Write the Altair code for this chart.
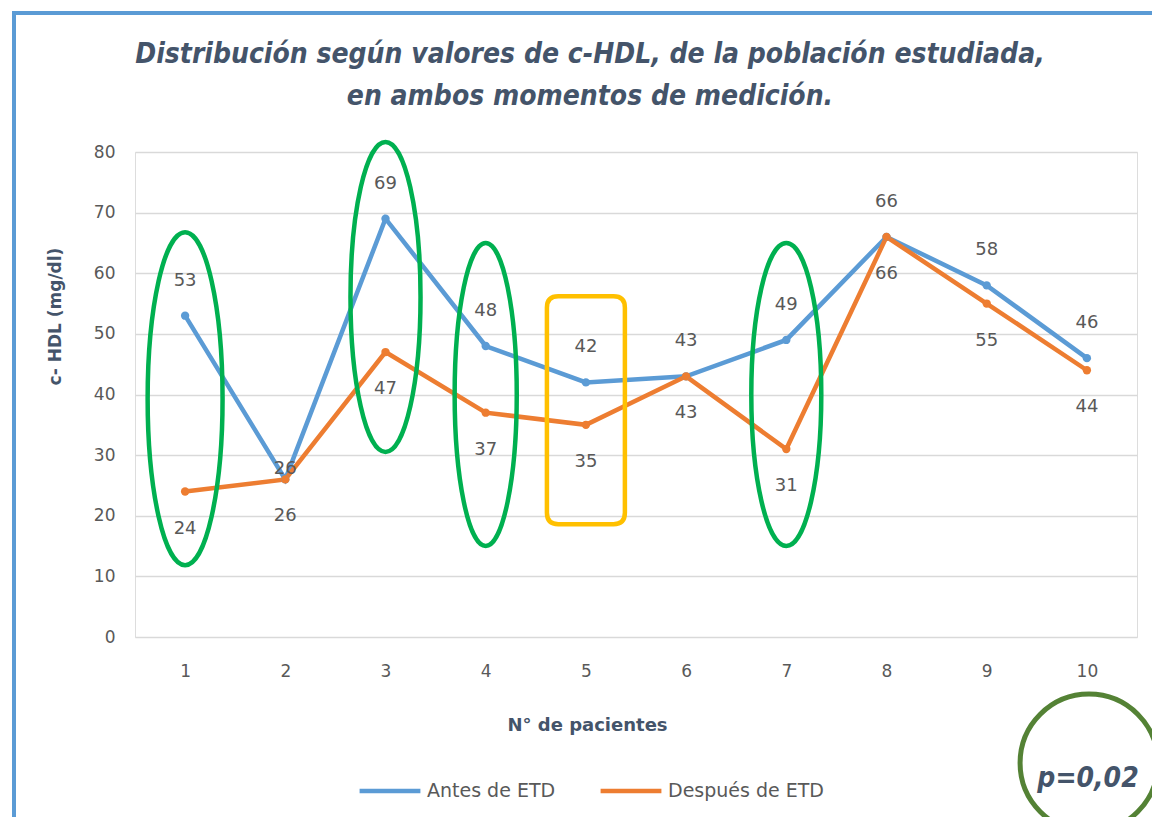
import altair as alt
import pandas as pd

# ---- data ----
pacientes = [1, 2, 3, 4, 5, 6, 7, 8, 9, 10]
antes = [53, 26, 69, 48, 42, 43, 49, 66, 58, 46]
despues = [24, 26, 47, 37, 35, 43, 31, 66, 55, 44]
series = ["Antes de ETD", "Después de ETD"]
colores = ["#5B9BD5", "#ED7D31"]

titulo = ["Distribución según valores de c-HDL, de la población estudiada,",
          "en ambos momentos de medición."]
p_valor = ["p=0,02"]

# annotation anchors (category, value at centre of the marker)
elipse_pacientes = [1, 3, 4, 7]
elipse_centros = [39.3, 56.1, 40.0, 40.0]
rect_paciente = [5]
rect_centro = [37.4]

rows = []
for p, a, d in zip(pacientes, antes, despues):
    rows.append({"paciente": p, "valor": a, "serie": series[0]})
    rows.append({"paciente": p, "valor": d, "serie": series[1]})
df = pd.DataFrame(rows)

FONT = "'DejaVu Sans', sans-serif"
TFONT = "'DejaVu Sans Condensed', 'Liberation Sans Narrow', 'DejaVu Sans', sans-serif"
GREY = "#595959"
SLATE = "#44546A"

xenc = alt.X("paciente:O", title="N° de pacientes",
             scale=alt.Scale(padding=0.5),
             axis=alt.Axis(labelAngle=0, ticks=False, domain=False, grid=False,
                           labelFontSize=17, labelColor=GREY, labelFont=FONT,
                           labelPadding=26,
                           titleFontSize=18, titleFont=FONT, titleColor=SLATE,
                           titleFontWeight="bold", titleX=452, titleY=88,
                           titleBaseline="middle"))
yenc = alt.Y("valor:Q", title="c- HDL (mg/dl)",
             scale=alt.Scale(domain=[0, 80], nice=False),
             axis=alt.Axis(values=list(range(0, 81, 10)), ticks=False, domain=False,
                           gridColor="#D9D9D9", gridWidth=1.5,
                           labelFontSize=17, labelColor=GREY, labelFont=FONT,
                           labelPadding=20,
                           titleFontSize=17, titleFont=FONT, titleColor=SLATE,
                           titleFontWeight="bold", titleX=-80, titleY=164,
                           titleAngle=-90, titleAlign="center",
                           titleBaseline="middle"))

color = alt.Color("serie:N", scale=alt.Scale(domain=series, range=colores),
                  legend=alt.Legend(title=None, orient="none", direction="horizontal",
                                    legendX=222, legendY=606, padding=0,
                                    symbolType="stroke", symbolSize=3700,
                                    symbolStrokeWidth=4.5, labelFontSize=19,
                                    labelFont=FONT, labelColor=GREY,
                                    labelOffset=4, columnPadding=35))

base = alt.Chart(df)

lines = base.mark_line(strokeWidth=4.5, point=alt.OverlayMarkDef(filled=True, size=70)).encode(
    x=xenc, y=yenc, color=color)

lab_antes = base.transform_filter(
    (alt.datum.serie == series[0]) & (alt.datum.paciente != 2)
).mark_text(dy=-35, fontSize=18, font=FONT, color=GREY).encode(
    x="paciente:O", y="valor:Q", text="valor:Q")
lab_antes2 = base.transform_filter(
    (alt.datum.serie == series[0]) & (alt.datum.paciente == 2)
).mark_text(dy=-10, fontSize=18, font=FONT, color=GREY).encode(
    x="paciente:O", y="valor:Q", text="valor:Q")
lab_desp = base.transform_filter(alt.datum.serie == series[1]).mark_text(
    dy=37, fontSize=18, font=FONT, color=GREY).encode(
    x="paciente:O", y="valor:Q", text="valor:Q")


def ellipse_path(w):
    k = 0.5523
    return (f"M0,-1 C{k*w:.4f},-1 {w:.4f},{-k:.4f} {w:.4f},0 "
            f"C{w:.4f},{k:.4f} {k*w:.4f},1 0,1 "
            f"C{-k*w:.4f},1 {-w:.4f},{k:.4f} {-w:.4f},0 "
            f"C{-w:.4f},{-k:.4f} {-k*w:.4f},-1 0,-1 Z")


def rrect_path(w, r):
    return (f"M{-w+r:.4f},-1 L{w-r:.4f},-1 Q{w:.4f},-1 {w:.4f},{-1+r:.4f} "
            f"L{w:.4f},{1-r:.4f} Q{w:.4f},1 {w-r:.4f},1 L{-w+r:.4f},1 "
            f"Q{-w:.4f},1 {-w:.4f},{1-r:.4f} L{-w:.4f},{-1+r:.4f} "
            f"Q{-w:.4f},-1 {-w+r:.4f},-1 Z")


ell_specs = [(0.225, 333), (0.226, 310), (0.205, 303), (0.231, 303)]
ell_layers = []
for p, c, (w, h) in zip(elipse_pacientes, elipse_centros, ell_specs):
    ell_layers.append(
        alt.Chart(pd.DataFrame({"paciente": [p], "valor": [c]})).mark_point(
            shape=ellipse_path(w), size=h * h, filled=False, stroke="#00B050",
            strokeWidth=4.5, opacity=1).encode(x="paciente:O", y="valor:Q"))

rect_layer = alt.Chart(pd.DataFrame({"paciente": rect_paciente, "valor": rect_centro})).mark_point(
    shape=rrect_path(0.342, 0.1), size=228 * 228, filled=False, stroke="#FFC000",
    strokeWidth=4.5, opacity=1).encode(x="paciente:O", y="valor:Q")

p_circle = alt.Chart(pd.DataFrame({"t": [0]})).mark_point(
    shape="circle", size=19000, filled=False, stroke="#548235", strokeWidth=5,
    opacity=1).encode(x=alt.value(954), y=alt.value(611))
p_text = alt.Chart(pd.DataFrame({"t": p_valor})).mark_text(
    fontSize=28, fontStyle="italic", fontWeight="bold", font=TFONT,
    color=SLATE, align="center", baseline="middle").encode(
    x=alt.value(953), y=alt.value(627), text="t:N")

title1 = alt.Chart(pd.DataFrame({"t": [titulo[0]]})).mark_text(
    fontSize=28, fontStyle="italic", fontWeight="bold", font=TFONT,
    color=SLATE, align="center", baseline="middle").encode(
    x=alt.value(455), y=alt.value(-97), text="t:N")
title2 = alt.Chart(pd.DataFrame({"t": [titulo[1]]})).mark_text(
    fontSize=28, fontStyle="italic", fontWeight="bold", font=TFONT,
    color=SLATE, align="center", baseline="middle").encode(
    x=alt.value(455), y=alt.value(-55), text="t:N")

border = alt.Chart(pd.DataFrame({"t": [0]})).mark_rect(
    fill=None, stroke="#5B9BD5", strokeWidth=4).encode(
    x=alt.value(-121), y=alt.value(-139), x2=alt.value(1100), y2=alt.value(800))

chart = alt.layer(
    border, title1, title2, lines, lab_antes, lab_antes2, lab_desp, *ell_layers,
    rect_layer, p_circle, p_text
).properties(
    width=1002, height=485,
    autosize=alt.AutoSizeParams(type="none"),
    padding={"left": 127, "top": 144, "right": 15, "bottom": 180},
).configure_view(stroke=None).configure(background="white")

chart.save("out.html", embed_options={"renderer": "svg", "actions": False})
